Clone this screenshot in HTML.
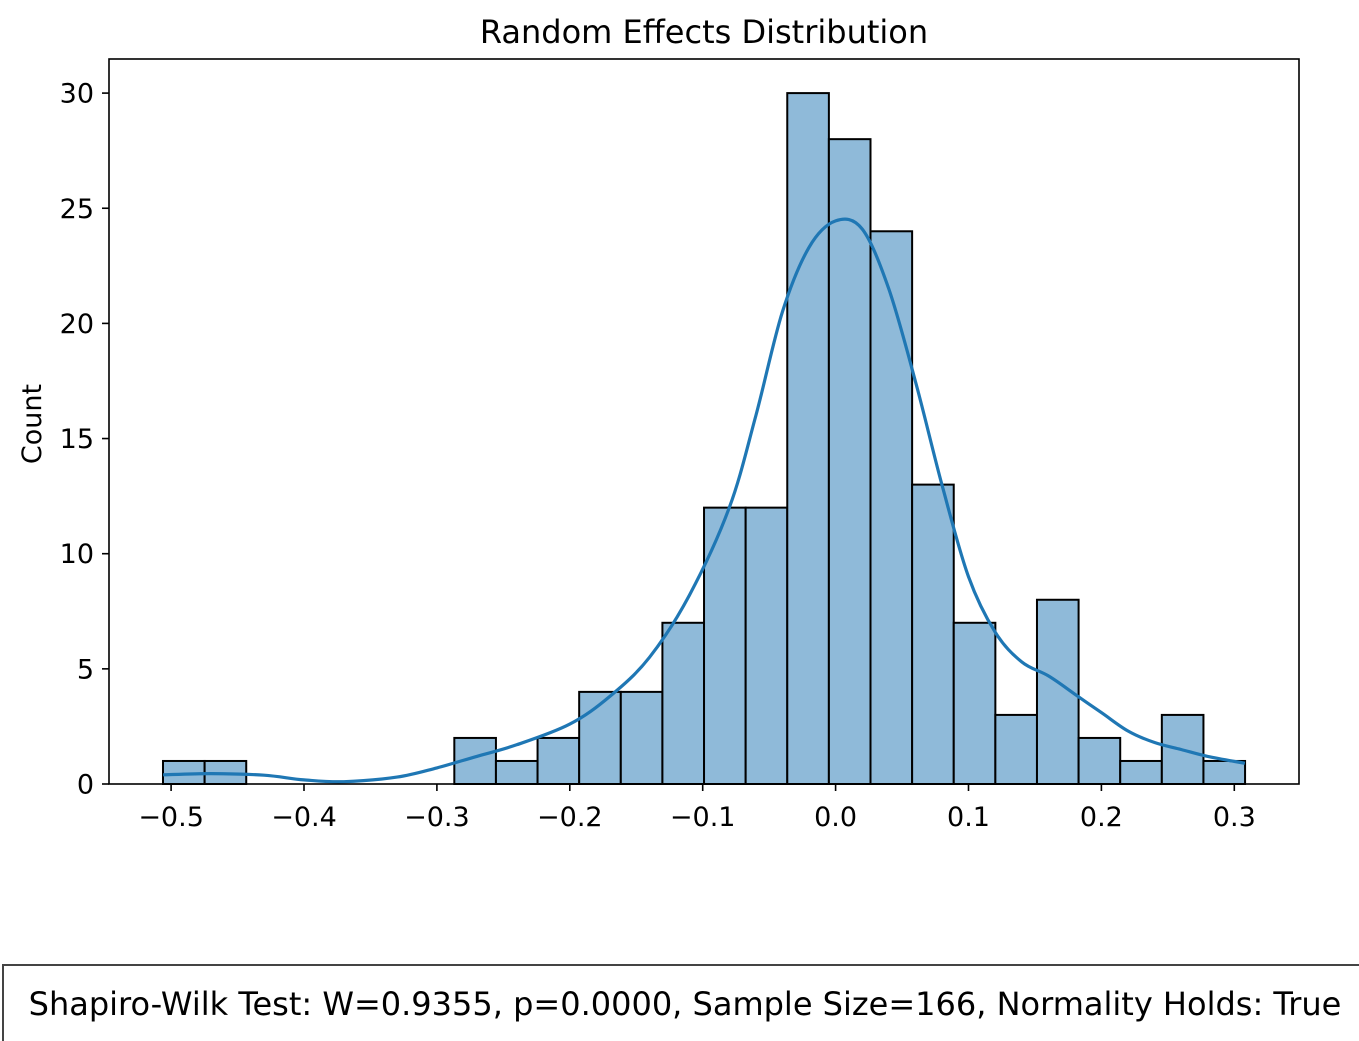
<!DOCTYPE html>
<html><head><meta charset="utf-8"><style>
html,body{margin:0;padding:0;background:#fff;width:1359px;height:1041px;overflow:hidden;font-family:"DejaVu Sans","Liberation Sans",sans-serif}
</style></head><body>
<svg id="chart" width="1359" height="1041" xmlns="http://www.w3.org/2000/svg"></svg>
<script>
const binCounts=[1,1,0,0,0,0,0,2,1,2,4,4,7,12,12,30,28,24,13,7,3,8,2,1,3,1];
const dataMin=-0.5061, dataMax=0.3081;
const kdeX=[-0.506,-0.47,-0.43,-0.4,-0.37,-0.33,-0.3,-0.27,-0.24,-0.2,-0.17,-0.14,-0.11,-0.08,-0.06,-0.04,-0.02,0.0,0.02,0.04,0.06,0.08,0.1,0.12,0.14,0.16,0.18,0.2,0.22,0.24,0.26,0.28,0.308];
const kdeY=[0.4,0.45,0.38,0.18,0.1,0.3,0.7,1.2,1.7,2.6,3.8,5.5,8.2,12,16,20.5,23.3,24.45,24.1,21.5,17.5,13,9,6.6,5.3,4.7,3.9,3.1,2.3,1.8,1.5,1.2,0.9];
const xTicks=[-0.5,-0.4,-0.3,-0.2,-0.1,0.0,0.1,0.2,0.3];
const xTickLabels=["\u22120.5","\u22120.4","\u22120.3","\u22120.2","\u22120.1","0.0","0.1","0.2","0.3"];
const yTicks=[0,5,10,15,20,25,30];
const L=109,R=1299,T=59,B=784;
const xs=v=>835.6+v*1329;
const ys=v=>B-v*23.03;
const svg=document.getElementById('chart');
const NS="http://www.w3.org/2000/svg";
function mk(tag,attrs,parent){const e=document.createElementNS(NS,tag);for(const k in attrs)e.setAttribute(k,attrs[k]);(parent||svg).appendChild(e);return e;}
const bw=(dataMax-dataMin)/binCounts.length;
binCounts.forEach((c,i)=>{
  if(c<=0)return;
  const x0=xs(dataMin+i*bw),x1=xs(dataMin+(i+1)*bw);
  const r=mk('rect',{x:x0,y:ys(c),width:x1-x0,height:ys(0)-ys(c),fill:'#8fbad9',stroke:'#000','stroke-width':2});
  
  
});
const pts=kdeX.map((x,i)=>[xs(x),ys(kdeY[i])]);
let d='M'+pts[0][0].toFixed(1)+','+pts[0][1].toFixed(1);
for(let i=0;i<pts.length-1;i++){
  const p0=pts[Math.max(0,i-1)],p1=pts[i],p2=pts[i+1],p3=pts[Math.min(pts.length-1,i+2)];
  const c1=[p1[0]+(p2[0]-p0[0])/6,p1[1]+(p2[1]-p0[1])/6];
  const c2=[p2[0]-(p3[0]-p1[0])/6,p2[1]-(p3[1]-p1[1])/6];
  d+='C'+c1.map(v=>v.toFixed(1)).join(',')+' '+c2.map(v=>v.toFixed(1)).join(',')+' '+p2.map(v=>v.toFixed(1)).join(',');
}
const p=mk('path',{d:d,fill:'none',stroke:'#1f77b4','stroke-width':3.2,'stroke-linejoin':'round'});


const fr=mk('rect',{x:L,y:T,width:R-L,height:B-T,fill:'none',stroke:'#000','stroke-width':1.6});


xTicks.forEach((v,i)=>{
  mk('line',{x1:xs(v),x2:xs(v),y1:B,y2:B+7,stroke:'#000','stroke-width':1.6});
  const t=mk('text',{x:xs(v),y:B+42,'text-anchor':'middle','font-size':27,fill:'#000'});
  t.textContent=xTickLabels[i];
  
  
});
yTicks.forEach(v=>{
  mk('line',{x1:L-7,x2:L,y1:ys(v),y2:ys(v),stroke:'#000','stroke-width':1.6});
  const t=mk('text',{x:L-15,y:ys(v)+9.5,'text-anchor':'end','font-size':27,fill:'#000'});
  t.textContent=v;
  
  
});
const yl=mk('text',{x:41,y:424,'text-anchor':'middle','font-size':27,transform:'rotate(-90 41 424)'});
yl.textContent='Count';


const ti=mk('text',{x:704,y:43,'text-anchor':'middle','font-size':32});
ti.textContent='Random Effects Distribution';


const bx=mk('rect',{x:3,y:965,width:1370,height:90,fill:'#fff',stroke:'#444','stroke-width':2});


const st=mk('text',{x:685,y:1015,'text-anchor':'middle','font-size':32});
st.textContent='Shapiro-Wilk Test: W=0.9355, p=0.0000, Sample Size=166, Normality Holds: True';


</script>
</body></html>
